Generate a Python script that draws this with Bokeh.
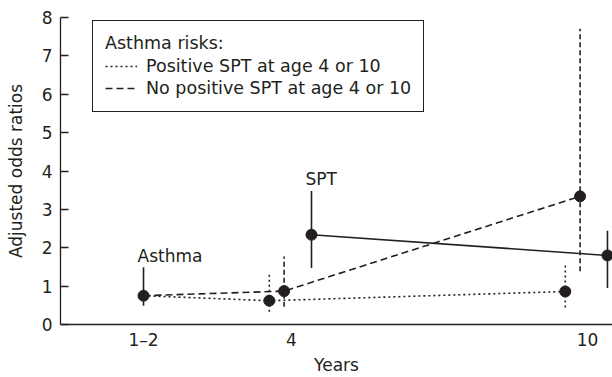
from bokeh.plotting import figure
from bokeh.models import FixedTicker, Legend, LegendItem, Label
from bokeh.embed import file_html
from bokeh.resources import INLINE

# ---- data ----
years = ["1–2", "4", "10"]          # x categories
year_pos = [1, 2, 4]                # ordinal positions on the axis

# Asthma (at age 1–2)
asthma_or = [0.75]
asthma_lo = [0.49]
asthma_hi = [1.49]

# Asthma risks: positive SPT at age 4 or 10 (dotted)
pos_or = [0.62, 0.86]
pos_lo = [0.33, 0.44]
pos_hi = [1.34, 1.54]

# Asthma risks: no positive SPT at age 4 or 10 (dashed)
neg_or = [0.87, 3.34]
neg_lo = [0.46, 1.39]
neg_hi = [1.77, 7.71]

# SPT (at age 4 and 10)
spt_or = [2.34, 1.80]
spt_lo = [1.47, 0.95]
spt_hi = [3.48, 2.44]

# ---- layout / style ----
FONT = "DejaVu Sans"
FS = "17px"
INK = "#231f20"
dodge_pos, dodge_neg, dodge_spt = -0.15, -0.05, 0.135

x_a = [year_pos[0]]
x_pos = [p + dodge_pos for p in year_pos[1:]]
x_neg = [p + dodge_neg for p in year_pos[1:]]
x_spt = [p + dodge_spt for p in year_pos[1:]]

p = figure(width=612, height=377, output_backend="svg", toolbar_location=None,
           x_range=(0.439, 4.169), y_range=(0, 8),
           min_border_left=60, min_border_right=0, min_border_top=17, min_border_bottom=49)
p.outline_line_color = None
p.grid.visible = False
p.background_fill_color = "white"

# lines connecting series (dotted & dashed start at the asthma point)
pos_line = p.line(x_a + x_pos, asthma_or + pos_or, line_color=INK, line_width=1.6, line_dash="2 3")
neg_line = p.line(x_a + x_neg, asthma_or + neg_or, line_color=INK, line_width=1.6, line_dash="7 4")
p.line(x_spt, spt_or, line_color=INK, line_width=1.6)

# error bars
p.segment(x0=x_a, y0=asthma_lo, x1=x_a, y1=asthma_hi, line_color=INK, line_width=1.6)
p.segment(x0=x_pos, y0=pos_lo, x1=x_pos, y1=pos_hi, line_color=INK, line_width=1.6, line_dash="2 3")
p.segment(x0=x_neg, y0=neg_lo, x1=x_neg, y1=neg_hi, line_color=INK, line_width=1.6, line_dash="5 3")
p.segment(x0=x_spt, y0=spt_lo, x1=x_spt, y1=spt_hi, line_color=INK, line_width=1.6)

# points
for xs, ys in [(x_a, asthma_or), (x_pos, pos_or), (x_neg, neg_or), (x_spt, spt_or)]:
    p.scatter(xs, ys, size=11, fill_color=INK, line_color=INK)

# annotations
p.add_layout(Label(x=x_a[0], y=asthma_hi[0], text="Asthma", x_offset=-6, y_offset=11,
                   text_font=FONT, text_font_size=FS, text_color=INK,
                   text_baseline="alphabetic"))
p.add_layout(Label(x=x_spt[0], y=spt_hi[0], text="SPT", x_offset=-6, y_offset=12,
                   text_font=FONT, text_font_size=FS, text_color=INK,
                   text_baseline="alphabetic"))

# legend
legend = Legend(items=[LegendItem(label="Positive SPT at age 4 or 10", renderers=[pos_line]),
                       LegendItem(label="No positive SPT at age 4 or 10", renderers=[neg_line])],
                title="Asthma risks:", location=(32, 212))
legend.title_text_font = FONT
legend.title_text_font_size = "17.5px"
legend.title_text_font_style = "normal"
legend.title_text_color = INK
legend.title_standoff = 2
legend.label_text_font = FONT
legend.label_text_font_size = "17.5px"
legend.label_text_color = INK
legend.label_height = 22
legend.glyph_height = 22
legend.glyph_width = 32
legend.label_standoff = 9
legend.spacing = 0
legend.padding = 12
legend.border_line_color = INK
legend.border_line_alpha = 1
legend.border_line_width = 1.2
legend.background_fill_alpha = 1
p.add_layout(legend)

# axes
p.xaxis.ticker = FixedTicker(ticks=year_pos)
p.xaxis.major_label_overrides = {pos: lab for pos, lab in zip(year_pos, years)}
p.xaxis.major_tick_out = 0
p.xaxis.major_tick_in = 0
p.xaxis.minor_tick_line_color = None
p.xaxis.axis_label = "Years"
p.yaxis.ticker = FixedTicker(ticks=list(range(0, 9)))
p.yaxis.major_tick_in = 8
p.yaxis.major_tick_out = 0
p.yaxis.minor_tick_line_color = None
p.yaxis.axis_label = "Adjusted odds ratios"
for ax in (p.xaxis, p.yaxis):
    ax.axis_line_color = INK
    ax.axis_line_width = 1.3
    ax.major_tick_line_width = 1.3
    ax.major_label_text_font = FONT
    ax.major_label_text_font_size = FS
    ax.major_label_text_color = INK
    ax.axis_label_text_font = FONT
    ax.axis_label_text_font_size = FS
    ax.axis_label_text_font_style = "normal"
    ax.axis_label_text_color = INK
p.xaxis.major_tick_line_color = None
p.yaxis.major_tick_line_color = INK
p.xaxis.major_label_standoff = 5
p.xaxis.axis_label_standoff = 2
p.yaxis.major_label_standoff = 8
p.yaxis.axis_label_standoff = 13

open("out.html", "w").write(file_html(p, INLINE))
